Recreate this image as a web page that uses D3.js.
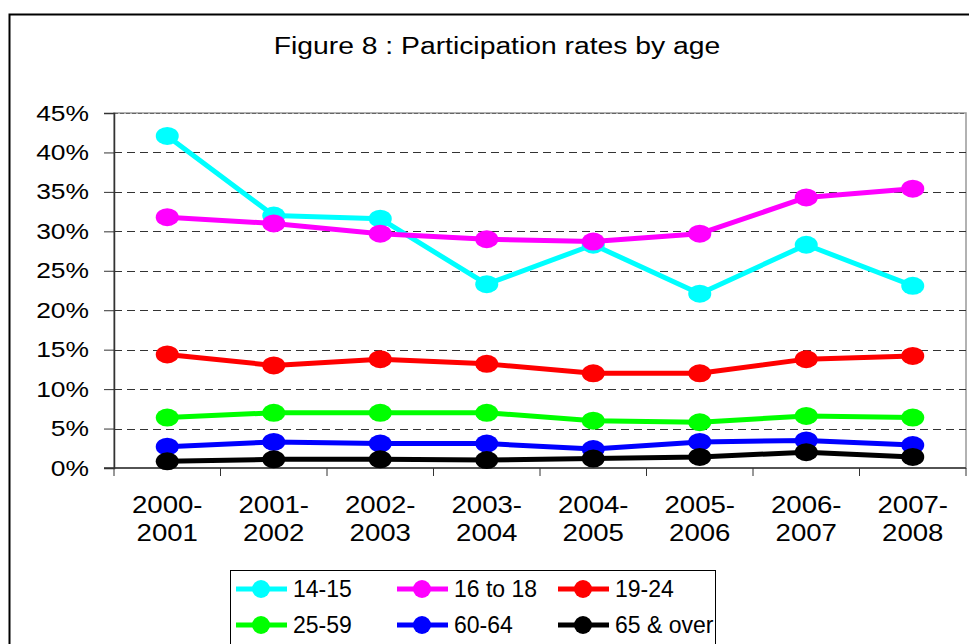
<!DOCTYPE html>
<html lang="en">

<head>
    <meta charset="UTF-8">
    <title>Figure 8 : Participation rates by age</title>
    <style>
        body {
            margin: 0;
            background: #fff;
        }

        svg text {
            font-family: "Liberation Sans", Arial, sans-serif;
            fill: #000;
        }
    </style>
</head>

<body>
    <svg id="chart" width="969" height="644"></svg>

    <script src="https://d3js.org/d3.v7.min.js"></script>
    <script>
        // Data
        const years = ["2000-2001", "2001-2002", "2002-2003", "2003-2004",
            "2004-2005", "2005-2006", "2006-2007", "2007-2008"];
        const seriesNames = ["14-15", "16 to 18", "19-24", "25-59", "60-64", "65 & over"];
        const seriesColors = ["#00ffff", "#ff00ff", "#ff0000", "#00ff00", "#0000ff", "#000000"];
        const age14to15 = [42.1, 32.0, 31.6, 23.3, 28.3, 22.1, 28.3, 23.1];
        const age16to18 = [31.8, 31.0, 29.7, 29.0, 28.7, 29.7, 34.3, 35.4];
        const age19to24 = [14.4, 13.0, 13.8, 13.2, 12.0, 12.0, 13.8, 14.2];
        const age25to59 = [6.4, 7.0, 7.0, 7.0, 6.0, 5.8, 6.6, 6.4];
        const age60to64 = [2.7, 3.3, 3.1, 3.1, 2.4, 3.3, 3.5, 2.9];
        const age65plus = [0.85, 1.1, 1.1, 1.0, 1.2, 1.4, 2.0, 1.4];
        const yTicks = [0, 5, 10, 15, 20, 25, 30, 35, 40, 45];

        const allSeries = [age14to15, age16to18, age19to24, age25to59, age60to64, age65plus];

        const svg = d3.select("#chart");

        // outer frame of the figure
        svg.append("rect")
            .attr("x", 9.5).attr("y", 14.5)
            .attr("width", 976).attr("height", 640)
            .attr("fill", "none").attr("stroke", "#000").attr("stroke-width", 2);

        // title (stretched a little, like the original)
        const title = svg.append("text")
            .attr("x", 497).attr("y", 54)
            .attr("text-anchor", "middle")
            .style("font-size", "23px")
            .text("Figure 8 : Participation rates by age");

        const plot = { left: 114, right: 966, top: 113, bottom: 468 };

        const xScale = d3.scaleBand()
            .domain(years)
            .range([plot.left, plot.right]);

        const yScale = d3.scaleLinear()
            .domain([0, 45])
            .range([plot.bottom, plot.top]);

        // plot area border (grey)
        svg.append("rect")
            .attr("x", plot.left).attr("y", plot.top)
            .attr("width", plot.right - plot.left).attr("height", plot.bottom - plot.top)
            .attr("fill", "none").attr("stroke", "#999").attr("stroke-width", 1.5);

        // dashed gridlines
        svg.append("g")
            .selectAll("line")
            .data(yTicks.filter(d => d > 0))
            .enter().append("line")
            .attr("x1", plot.left).attr("x2", plot.right)
            .attr("y1", d => Math.round(yScale(d)) + 0.5)
            .attr("y2", d => Math.round(yScale(d)) + 0.5)
            .attr("stroke", d => d === 45 ? "#666" : "#333")
            .attr("stroke-width", 1)
            .attr("stroke-dasharray", d => d === 45 ? "4,2" : "8,5");

        // Y axis
        const yAxis = svg.append("g")
            .attr("transform", `translate(${plot.left},0)`)
            .call(d3.axisLeft(yScale).tickValues(yTicks).tickSize(10).tickPadding(15)
                .tickFormat(d => d + "%"));
        yAxis.select(".domain").attr("stroke", "#333").attr("stroke-width", 1.5);
        yAxis.selectAll(".tick line").attr("stroke", "#333");
        yAxis.selectAll("text")
            .style("font-size", "22px")
            .attr("font-family", null);

        // X axis: ticks sit on the category boundaries
        const xAxis = svg.append("g")
            .attr("transform", `translate(0,${plot.bottom})`);
        xAxis.append("line")
            .attr("x1", plot.left - 10).attr("x2", plot.right)
            .attr("y1", 0).attr("y2", 0)
            .attr("stroke", "#333").attr("stroke-width", 1.5);
        xAxis.selectAll(".xtick")
            .data(years.concat(["end"]))
            .enter().append("line")
            .attr("x1", (d, i) => plot.left + i * xScale.step())
            .attr("x2", (d, i) => plot.left + i * xScale.step())
            .attr("y1", 0).attr("y2", 8)
            .attr("stroke", "#333");
        xAxis.selectAll(".xlabel")
            .data(years)
            .enter().append("text")
            .attr("class", "xlabel")
            .attr("text-anchor", "middle")
            .style("font-size", "23px")
            .each(function (d) {
                const parts = d.split("-");
                const t = d3.select(this);
                t.append("tspan")
                    .attr("x", xScale(d) + xScale.bandwidth() / 2).attr("y", 45)
                    .text(parts[0] + "-");
                t.append("tspan")
                    .attr("x", xScale(d) + xScale.bandwidth() / 2).attr("y", 73)
                    .text(parts[1]);
            });

        // stretch tick text & title horizontally to match the original
        function stretch(sel, k) {
            sel.each(function () {
                const w = this.getComputedTextLength();
                d3.select(this).attr("textLength", w * k).attr("lengthAdjust", "spacingAndGlyphs");
            });
        }
        stretch(title, 1.23);
        stretch(yAxis.selectAll("text"), 1.2);
        stretch(xAxis.selectAll("tspan"), 1.2);

        // lines and markers
        const line = d3.line()
            .x((d, i) => xScale(years[i]) + xScale.bandwidth() / 2)
            .y(d => yScale(d));

        allSeries.forEach((values, s) => {
            const g = svg.append("g");
            g.append("path")
                .datum(values)
                .attr("d", line)
                .attr("fill", "none")
                .attr("stroke", seriesColors[s])
                .attr("stroke-width", 5)
                .attr("stroke-linejoin", "round");
            g.selectAll("ellipse")
                .data(values)
                .enter().append("ellipse")
                .attr("cx", (d, i) => xScale(years[i]) + xScale.bandwidth() / 2)
                .attr("cy", d => yScale(d))
                .attr("rx", 11.5)
                .attr("ry", 9)
                .attr("fill", seriesColors[s]);
        });

        // legend
        const legend = svg.append("g");
        legend.append("rect")
            .attr("x", 230.5).attr("y", 570.5)
            .attr("width", 485).attr("height", 90)
            .attr("fill", "#fff").attr("stroke", "#000").attr("stroke-width", 1);

        const legendItems = legend.selectAll(".item")
            .data(seriesNames)
            .enter().append("g")
            .attr("class", "item")
            .attr("transform", (d, i) => `translate(${236 + (i % 3) * 161},${589 + Math.floor(i / 3) * 36})`);
        legendItems.append("line")
            .attr("x1", 0).attr("x2", 51)
            .attr("y1", 0).attr("y2", 0)
            .attr("stroke", (d, i) => seriesColors[i])
            .attr("stroke-width", 5);
        legendItems.append("circle")
            .attr("cx", 25).attr("cy", 0).attr("r", 9)
            .attr("fill", (d, i) => seriesColors[i]);
        legendItems.append("text")
            .attr("x", 57).attr("y", 8)
            .style("font-size", "23px")
            .text(d => d);
    </script>
</body>

</html>
